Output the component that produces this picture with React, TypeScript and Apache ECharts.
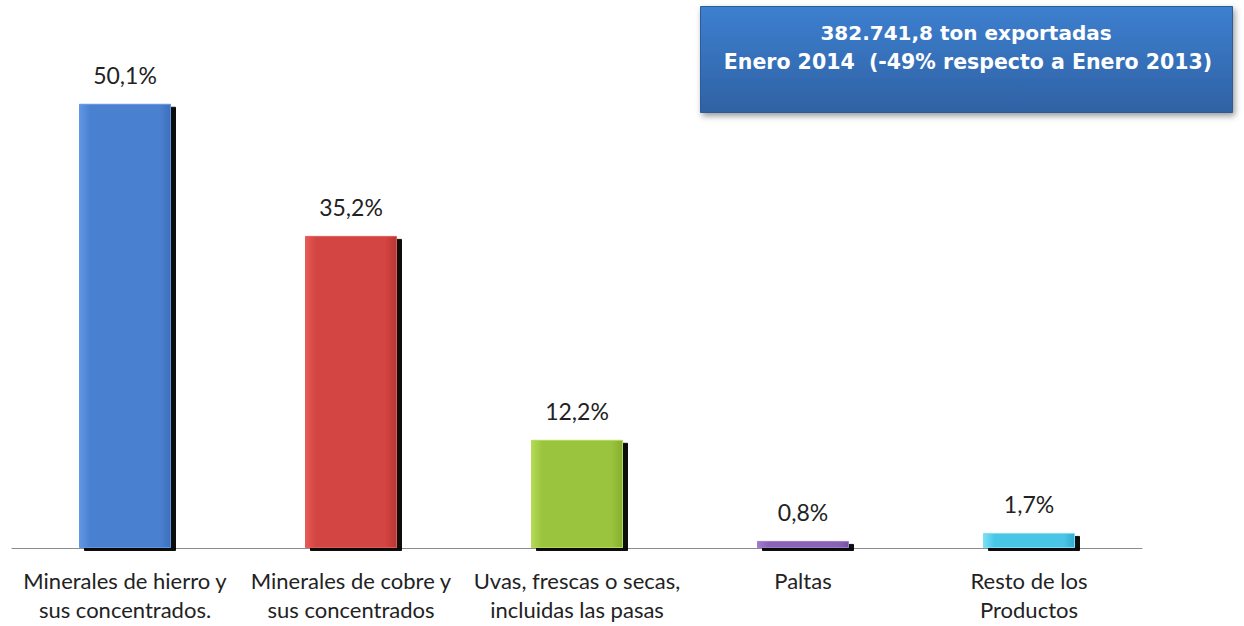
import React, { useEffect, useRef } from "react";
import * as echarts from "echarts";

const categories = [
  "Minerales de hierro y\nsus concentrados.",
  "Minerales de cobre y\nsus concentrados",
  "Uvas, frescas o secas,\nincluidas las pasas",
  "Paltas",
  "Resto de los\nProductos",
];
const values = [50.1, 35.2, 12.2, 0.8, 1.7];
const valueLabels = ["50,1%", "35,2%", "12,2%", "0,8%", "1,7%"];
const barColors = [
  ["#6196e2", "#4a80d0", "#3d70bc"],
  ["#e65a56", "#d24442", "#b83634"],
  ["#b4da58", "#9ac43c", "#86ae2e"],
  ["#a07ccc", "#8a64b8", "#7552a2"],
  ["#7ce0f6", "#4ac6e6", "#32acd0"],
];
const titleLines = ["382.741,8 ton exportadas", "Enero 2014  (-49% respecto a Enero 2013)"];

export default function App() {
  const ref = useRef<HTMLDivElement>(null);
  useEffect(() => {
    const chart = echarts.init(ref.current!, null, { renderer: "svg" });
    chart.setOption({
      animation: false,
      grid: { left: 12, right: 102, top: 16, bottom: 78 },
      xAxis: {
        type: "category",
        data: categories,
        axisLine: { lineStyle: { color: "#8c8c8c", width: 1 } },
        axisTick: { show: false },
        axisLabel: {
          interval: 0,
          margin: 18,
          fontSize: 22,
          lineHeight: 29,
          color: "#222",
          fontFamily: "Lato, 'Open Sans', sans-serif",
        },
      },
      yAxis: { type: "value", min: 0, max: 60, show: false },
      series: [
        {
          type: "bar",
          barWidth: 92,
          data: values.map((v, i) => ({
            value: v,
            itemStyle: {
              color: new echarts.graphic.LinearGradient(0, 0, 1, 0, [
                { offset: 0, color: barColors[i][0] },
                { offset: 0.12, color: barColors[i][1] },
                { offset: 0.88, color: barColors[i][1] },
                { offset: 1, color: barColors[i][2] },
              ]),
              borderColor: barColors[i][0],
              borderWidth: 1,
              shadowColor: "rgba(0,0,0,0.95)",
              shadowOffsetX: 5,
              shadowOffsetY: 3,
              shadowBlur: 1,
            },
          })),
          label: {
            show: true,
            position: "top",
            distance: 17,
            formatter: (p: any) => valueLabels[p.dataIndex],
            fontSize: 23,
            color: "#222",
            fontFamily: "Lato, 'Open Sans', sans-serif",
          },
        },
      ],
      graphic: [
        {
          type: "rect",
          left: 700,
          top: 6,
          shape: { width: 532, height: 106 },
          style: {
            fill: new echarts.graphic.LinearGradient(0, 0, 0, 1, [
              { offset: 0, color: "#3d7fcf" },
              { offset: 1, color: "#2f62a4" },
            ]),
            stroke: "#2c5c9a",
            lineWidth: 1,
            shadowColor: "rgba(0,0,0,0.4)",
            shadowBlur: 6,
            shadowOffsetX: 2,
            shadowOffsetY: 3,
          },
        },
        {
          type: "text",
          x: 966,
          y: 33,
          style: {
            text: titleLines[0],
            fill: "#fff",
            font: "bold 20px 'DejaVu Sans', sans-serif",
            textAlign: "center",
            textVerticalAlign: "middle",
          },
        },
        {
          type: "text",
          x: 968,
          y: 62,
          style: {
            text: titleLines[1],
            fill: "#fff",
            font: "bold 20.5px 'DejaVu Sans', sans-serif",
            textAlign: "center",
            textVerticalAlign: "middle",
          },
        },
      ],
    });
    return () => chart.dispose();
  }, []);
  return <div ref={ref} style={{ width: 1244, height: 626, position: "absolute", left: 0, top: 0 }} />;
}
